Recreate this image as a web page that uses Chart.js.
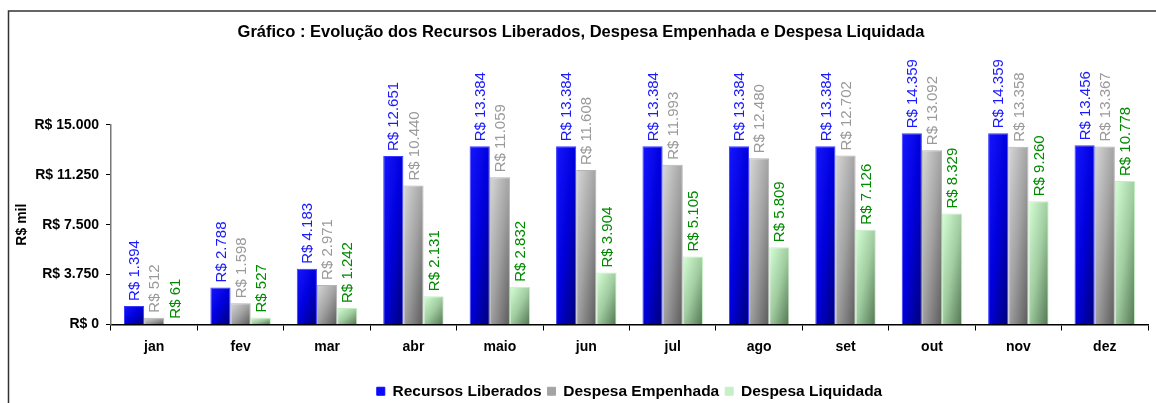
<!DOCTYPE html>
<html>
<head>
<meta charset="utf-8">
<script src="https://cdn.jsdelivr.net/npm/chart.js@4/dist/chart.umd.min.js"></script>
<style>
  html, body { margin: 0; padding: 0; background: #fff; }
  #wrap { width: 1156px; height: 403px; }
</style>
</head>
<body>
<div id="wrap"><canvas id="grafico"></canvas></div>
<script>
const meses = ['jan', 'fev', 'mar', 'abr', 'maio', 'jun', 'jul', 'ago', 'set', 'out', 'nov', 'dez'];
const recursosLiberados = [1394, 2788, 4183, 12651, 13384, 13384, 13384, 13384, 13384, 14359, 14359, 13456];
const despesaEmpenhada = [512, 1598, 2971, 10440, 11059, 11608, 11993, 12480, 12702, 13092, 13358, 13367];
const despesaLiquidada = [61, 527, 1242, 2131, 2832, 3904, 5105, 5809, 7126, 8329, 9260, 10778];
const ticksY = [0, 3750, 7500, 11250, 15000];

const fonte = "'Liberation Sans', Arial, sans-serif";
const fmt = v => 'R$ ' + v.toLocaleString('pt-BR');
const coresLegenda = ['#0a0aff', '#a4a4a4', '#c6f0c6'];

// degradê diagonal de cada barra (claro em cima/esquerda, escuro embaixo/direita)
function degrade(cores, solida) {
  return function (context) {
    const chart = context.chart;
    if (context.type !== 'data' || !chart.chartArea) return solida;
    const x = chart.scales.x, y = chart.scales.y;
    const slot = (x.width / meses.length) * 0.7 / 3;
    const cx = x.getPixelForValue(context.dataIndex);
    const left = cx + (context.datasetIndex - 1.5) * slot;
    const top = y.getPixelForValue(context.raw);
    const bottom = y.getPixelForValue(0);
    const w = slot, h = Math.max(bottom - top, 1);
    const a = 0.5 / w, b = 0.5 / h, n = a * a + b * b;
    const g = chart.ctx.createLinearGradient(left, top, left + a / n, top + b / n);
    cores.forEach((c, i) => g.addColorStop(i / (cores.length - 1), c));
    return g;
  };
}

// rótulos de valor girados acima das barras
const rotulos = {
  id: 'rotulos',
  afterDatasetsDraw(chart) {
    const ctx = chart.ctx;
    const cores = ['#1a1aff', '#9a9a9a', '#008a00'];
    chart.data.datasets.forEach((ds, i) => {
      chart.getDatasetMeta(i).data.forEach((bar, j) => {
        ctx.save();
        ctx.translate(bar.x + 1, bar.y - 5);
        ctx.rotate(-Math.PI / 2);
        ctx.font = '15px ' + fonte;
        ctx.fillStyle = cores[i];
        ctx.textAlign = 'left';
        ctx.textBaseline = 'middle';
        ctx.fillText(fmt(ds.data[j]), 0, 0);
        ctx.restore();
      });
    });
  }
};

// moldura e fundo
const moldura = {
  id: 'moldura',
  beforeDraw(chart) {
    const ctx = chart.ctx;
    ctx.save();
    ctx.fillStyle = '#fff';
    ctx.fillRect(0, 0, chart.width, chart.height);
    ctx.strokeStyle = '#333';
    ctx.lineWidth = 1.5;
    ctx.strokeRect(8.5, 11, chart.width + 10, chart.height + 10);
    ctx.restore();
  }
};

new Chart(document.getElementById('grafico'), {
  type: 'bar',
  data: {
    labels: meses,
    datasets: [
      {
        label: 'Recursos Liberados',
        data: recursosLiberados,
        backgroundColor: degrade(['#1616ff', '#0000dc', '#000078'], '#0000ff'),
        borderColor: '#3a3aff',
        borderWidth: 1
      },
      {
        label: 'Despesa Empenhada',
        data: despesaEmpenhada,
        backgroundColor: degrade(['#d8d8d8', '#a2a2a2', '#5a5a5a'], '#a0a0a0'),
        borderColor: '#b4b4b4',
        borderWidth: 1
      },
      {
        label: 'Despesa Liquidada',
        data: despesaLiquidada,
        backgroundColor: degrade(['#d6ffd6', '#a0cca0', '#527452'], '#c8f0c8'),
        borderColor: '#c4eec4',
        borderWidth: 1
      }
    ]
  },
  plugins: [moldura, rotulos],
  options: {
    responsive: true,
    maintainAspectRatio: false,
    animation: false,
    layout: { padding: { left: 14, right: 8, top: 0, bottom: -6 } },
    datasets: {
      bar: { categoryPercentage: 0.7, barPercentage: 1.0 }
    },
    plugins: {
      tooltip: { enabled: false },
      title: {
        display: true,
        text: 'Gráfico : Evolução dos Recursos Liberados, Despesa Empenhada e Despesa Liquidada',
        color: '#000',
        font: { family: fonte, size: 16.5, weight: 'bold' },
        padding: { top: 23, bottom: 82 }
      },
      legend: {
        position: 'bottom',
        fullSize: false,
        labels: {
          color: '#000',
          font: { family: fonte, size: 15.5, weight: 'bold' },
          boxWidth: 8,
          boxHeight: 8,
          padding: 6,
          generateLabels: chart => Chart.defaults.plugins.legend.labels.generateLabels(chart)
            .map((item, i) => ({ ...item, fillStyle: coresLegenda[i], strokeStyle: coresLegenda[i] }))
        }
      }
    },
    scales: {
      x: {
        afterFit: scale => { scale.height = 53; },
        grid: {
          drawOnChartArea: false,
          drawTicks: true,
          tickLength: 6,
          color: '#000'
        },
        border: { color: '#000', width: 1.5 },
        ticks: {
          color: '#000',
          padding: 8,
          font: { family: fonte, size: 14, weight: 'bold' }
        }
      },
      y: {
        min: 0,
        max: 15000,
        afterBuildTicks: scale => { scale.ticks = ticksY.map(v => ({ value: v })); },
        afterFit: scale => { scale.width = 97; },
        grid: {
          drawOnChartArea: false,
          drawTicks: true,
          tickLength: 5,
          color: '#000'
        },
        border: { color: '#777', width: 1.5 },
        ticks: {
          color: '#000',
          padding: 7,
          font: { family: fonte, size: 14, weight: 'bold' },
          callback: v => fmt(v)
        },
        title: {
          display: true,
          text: 'R$ mil',
          color: '#000',
          font: { family: fonte, size: 14, weight: 'bold' },
          padding: 0
        }
      }
    }
  }
});
</script>
</body>
</html>
